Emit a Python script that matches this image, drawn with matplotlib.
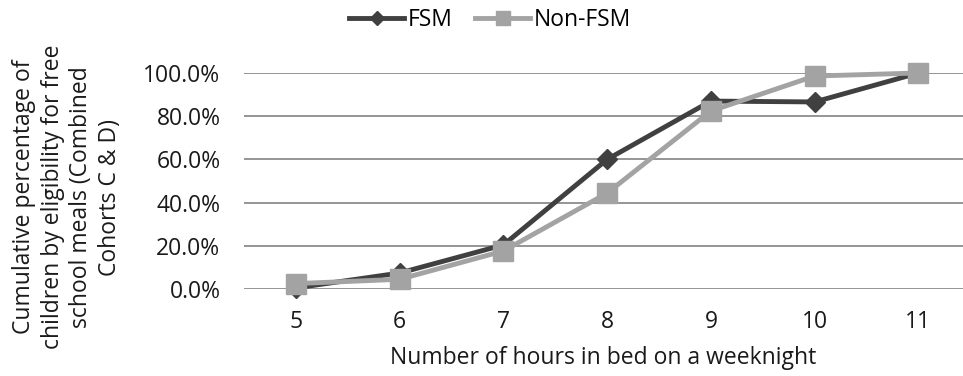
import matplotlib.pyplot as plt
from matplotlib.ticker import FuncFormatter

plt.rcParams['font.family'] = ['Open Sans', 'DejaVu Sans']

hours = [5, 6, 7, 8, 9, 10, 11]
fsm = [0.5, 7.4, 20.4, 60.0, 87.0, 86.6, 100.0]
non_fsm = [2.5, 4.5, 17.6, 44.4, 82.4, 98.6, 100.0]

fig = plt.figure(figsize=(9.63, 3.76), dpi=100)
ax = fig.add_axes([244 / 963, 1 - 289 / 376, 1 - 244 / 963, (289 - 73) / 376])

ax.plot(hours, fsm, color='#404040', lw=3.5, marker='D', ms=10, label='FSM', zorder=3)
ax.plot(hours, non_fsm, color='#a3a3a3', lw=3.5, marker='s', ms=14, label='Non-FSM', zorder=4)

ax.set_xlim(4.5, 11.43)
ax.set_ylim(0, 100)
ax.set_yticks([0, 20, 40, 60, 80, 100])
ax.set_xticks(hours)
ax.yaxis.set_major_formatter(FuncFormatter(lambda v, p: f'{v:.1f}%'))
ax.grid(axis='y', color='#8c8c8c', lw=1.3)
ax.set_axisbelow(True)
for s in ax.spines.values():
    s.set_visible(False)
ax.tick_params(length=0, labelsize=16.5, colors='#1a1a1a')
ax.tick_params(axis='x', pad=15)
ax.tick_params(axis='y', pad=17)
for line in ax.lines:
    line.set_clip_on(False)

ax.set_xlabel('Number of hours in bed on a weeknight', fontsize=16.5, color='#1a1a1a', labelpad=9)
fig.text(67 / 963, 1 - 197 / 376,
         'Cumulative percentage of\nchildren by eligibility for free\nschool meals (Combined\nCohorts C & D)',
         rotation=90, ha='center', va='center', multialignment='center',
         fontsize=16.5, color='#1a1a1a', linespacing=1.25)

leg = fig.legend(loc='center', bbox_to_anchor=(490 / 963, 1 - 20 / 376), ncol=2, frameon=False,
                 fontsize=16.5, handlelength=2.4, columnspacing=1.0, handletextpad=0.15,
                 markerscale=0.75)

fig.savefig('out.png', dpi=100)
